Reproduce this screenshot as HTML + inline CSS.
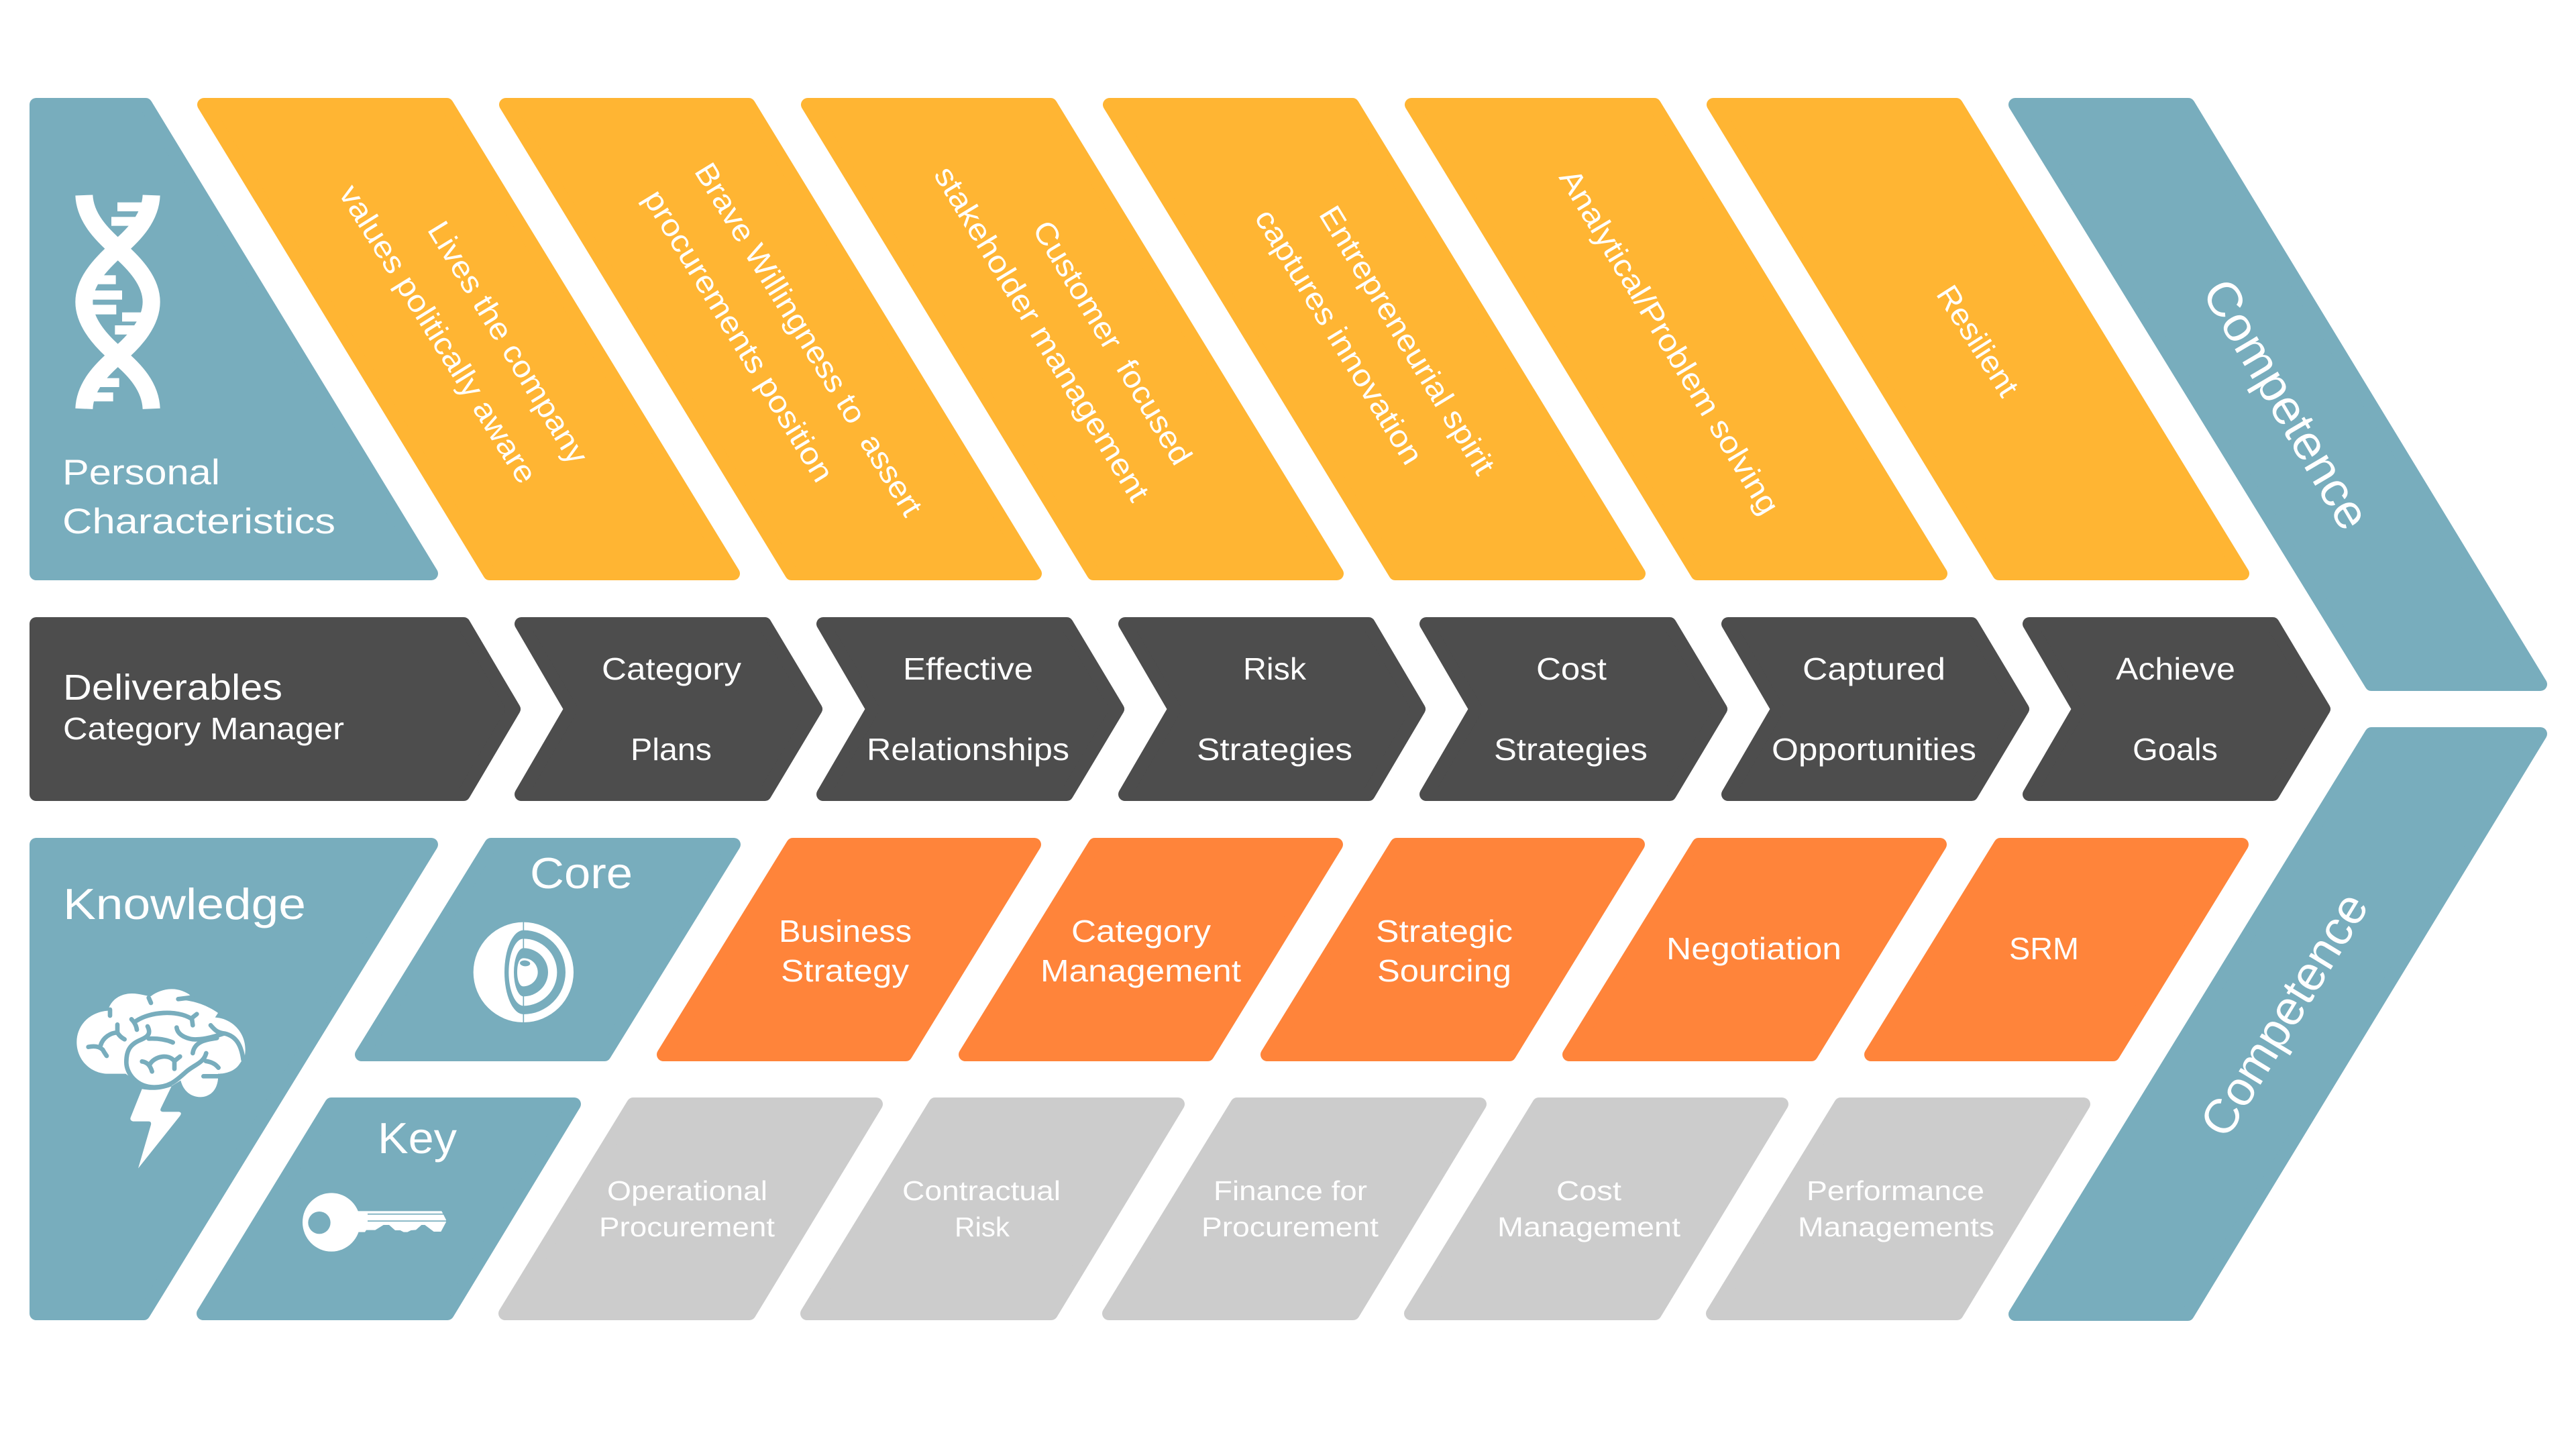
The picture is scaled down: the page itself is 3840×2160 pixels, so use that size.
<!DOCTYPE html>
<html>
<head>
<meta charset="utf-8">
<title>Deliverables Chevron Diagram</title>
<style>
html,body{margin:0;padding:0;background:#fff;width:3840px;height:2160px;overflow:hidden}
svg{display:block}
text{font-family:"Liberation Sans",sans-serif;fill:#fff}
</style>
</head>
<body>
<svg xmlns="http://www.w3.org/2000/svg" width="3840" height="2160" viewBox="0 0 3840 2160">
<rect width="3840" height="2160" fill="#fff"/>

<g fill="#78ADBD" stroke="#78ADBD" stroke-width="20" stroke-linejoin="round">
<polygon points="54,156 217,156 643,855 54,855"/>
<polygon points="3004,156 3262,156 3787,1020 3535,1020"/>
<polygon points="3535,1094 3787,1094 3261,1959 3004,1959"/>
<polygon points="54,1259 643,1259 214,1958 54,1958"/>
<polygon points="732,1259 1094,1259 901,1572 539,1572"/>
<polygon points="494,1646 856,1646 667,1958 303,1958"/>
</g>

<g fill="#FFB533" stroke="#FFB533" stroke-width="20" stroke-linejoin="round">
<polygon points="304,156 666,156 1093,855 730,855"/>
<polygon points="754,156 1116,156 1543,855 1180,855"/>
<polygon points="1204,156 1566,156 1993,855 1630,855"/>
<polygon points="1654,156 2016,156 2443,855 2080,855"/>
<polygon points="2104,156 2466,156 2893,855 2530,855"/>
<polygon points="2554,156 2916,156 3343,855 2980,855"/>
</g>

<g fill="#4D4D4D" stroke="#4D4D4D" stroke-width="20" stroke-linejoin="round">
<polygon points="54,930 691,930 766,1057 691,1184 54,1184"/>
<polygon points="777,930 1140,930 1216,1057 1140,1184 777,1184 851,1057"/>
<polygon points="1227,930 1590,930 1666,1057 1590,1184 1227,1184 1301,1057"/>
<polygon points="1677,930 2040,930 2115,1057 2040,1184 1677,1184 1751,1057"/>
<polygon points="2126,930 2489,930 2565,1057 2489,1184 2126,1184 2200,1057"/>
<polygon points="2576,930 2939,930 3015,1057 2939,1184 2576,1184 2650,1057"/>
<polygon points="3025,930 3388,930 3464,1057 3388,1184 3025,1184 3099,1057"/>
</g>

<g fill="#FF843A" stroke="#FF843A" stroke-width="20" stroke-linejoin="round">
<polygon points="1182,1259 1542,1259 1350,1572 989,1572"/>
<polygon points="1632,1259 1992,1259 1800,1572 1439,1572"/>
<polygon points="2082,1259 2442,1259 2250,1572 1889,1572"/>
<polygon points="2532,1259 2892,1259 2700,1572 2339,1572"/>
<polygon points="2982,1259 3342,1259 3150,1572 2789,1572"/>
</g>

<g fill="#CCCCCC" stroke="#CCCCCC" stroke-width="20" stroke-linejoin="round">
<polygon points="944,1646 1306,1646 1117,1958 753,1958"/>
<polygon points="1394,1646 1756,1646 1567,1958 1203,1958"/>
<polygon points="1844,1646 2206,1646 2017,1958 1653,1958"/>
<polygon points="2294,1646 2656,1646 2467,1958 2103,1958"/>
<polygon points="2744,1646 3106,1646 2917,1958 2553,1958"/>
</g>

<!-- DNA icon -->
<g transform="translate(60 260) scale(0.33333)">
<g fill="none" stroke="#fff" stroke-width="78">
<path d="M196,93 C200,190 270,265 347,332 C425,400 497,480 497,570 C497,660 425,745 347,810 C270,875 200,950 196,1048"/>
<path d="M497,93 C493,190 425,265 347,332 C270,400 196,480 196,570 C196,660 270,745 347,810 C425,875 493,950 497,1048"/>
</g>
<g fill="#fff">
<rect x="345" y="125" width="110" height="40"/>
<rect x="318" y="190" width="120" height="40"/>
<rect x="240" y="451" width="98" height="40"/>
<rect x="220" y="519" width="146" height="41"/>
<rect x="220" y="583" width="120" height="43"/>
<rect x="366" y="617" width="95" height="41"/>
<rect x="334" y="675" width="105" height="41"/>
<rect x="260" y="911" width="93" height="40"/>
<rect x="225" y="975" width="101" height="40"/>
</g>
</g>

<!-- Brain icon -->
<g transform="translate(90 1450) scale(0.33333)">
<path fill="#fff" d="M292,452 L215,452 C135,452 73,390 73,310 C73,232 135,175 213,170 C225,120 270,93 320,93 C355,93 385,105 405,105 C430,85 465,73 500,73 C530,73 560,85 580,100 L540,122 C600,125 660,148 705,180 L692,200 C775,205 842,280 824,375 L800,410 C780,440 740,452 705,452 L705,475 C700,530 665,556 625,556 C585,556 550,530 538,482 L500,505 L365,505 Z"/>
<g fill="none" stroke="#78ADBD" stroke-width="20" stroke-linecap="round" stroke-linejoin="round">
<path d="M390,240 C405,270 395,285 360,300 C310,320 295,350 295,400 C295,450 340,512 420,512 C490,512 520,480 560,445 C600,410 640,405 652,360"/>
<path d="M650,395 C680,400 695,410 707,425"/>
<path d="M395,295 C440,293 475,300 503,312"/>
<path d="M318,208 C335,225 340,240 342,255"/>
<path d="M340,215 C400,175 520,165 585,205"/>
<path d="M585,205 L610,185"/>
<path d="M588,205 L592,235"/>
<path d="M125,332 C160,325 180,335 190,345 C195,355 200,362 207,372"/>
<path d="M180,325 C190,290 225,268 255,268 L255,232"/>
<path d="M255,268 C262,280 272,290 287,298"/>
<path d="M520,245 C525,285 580,300 610,298 C650,297 690,285 730,272"/>
<path d="M672,235 C690,255 700,268 735,272 C790,285 810,330 818,390"/>
<path d="M700,292 C670,298 600,300 592,360"/>
<path d="M365,397 C385,400 400,410 410,442"/>
<path d="M400,410 C420,375 480,360 510,395 L510,430"/>
<path d="M510,395 L535,375"/>
<path d="M640,463 L712,463"/>
<path d="M222,165 L222,192"/>
<path d="M395,112 L405,135"/>
<path d="M527,118 L590,110"/>
</g>
<path fill="#fff" d="M365,520 C410,528 455,525 497,508 L450,605 Q442,620 458,622 L530,622 Q546,625 535,640 L348,875 L405,680 Q408,665 395,665 L325,665 Q308,660 315,645 Z"/>
</g>

<!-- Core icon -->
<g transform="translate(680 1340) scale(0.33333)">
<circle cx="301" cy="328" r="224" fill="#fff"/>
<path fill="#78ADBD" d="M301,140 A188,188 0 0 1 301,516 A85,188 0 0 1 301,140Z"/>
<path fill="#fff" d="M301,178 A150,150 0 0 1 301,478 A66,150 0 0 1 301,178Z"/>
<path fill="#78ADBD" d="M301,220 A110,108 0 0 1 301,436 A43,108 0 0 1 301,220Z"/>
<line x1="301" y1="102" x2="301" y2="554" stroke="#78ADBD" stroke-width="5"/>
<path fill="#fff" d="M301,265 C340,265 365,295 365,328 C365,362 335,391 300,391 C282,391 273,360 273,328 C273,295 280,265 301,265Z"/>
<ellipse cx="308" cy="288" rx="23" ry="13" transform="rotate(5 308 288)" fill="#78ADBD"/>
</g>

<!-- Key icon -->
<g transform="translate(420 1740) scale(0.33333)">
<ellipse cx="222" cy="246" rx="129" ry="131" fill="#fff"/>
<circle cx="168" cy="248" r="50" fill="#78ADBD"/>
<polygon fill="#fff" points="340,196 715,196 735,235 735,245 712,288 680,288 640,258 625,258 600,280 578,282 562,290 545,290 530,282 507,282 480,258 455,258 418,281 378,281 372,290 340,290"/>
<rect x="384" y="207" width="340" height="5" fill="#78ADBD"/>
<rect x="384" y="238" width="352" height="5" fill="#78ADBD"/>
</g>

<!-- Titles -->
<g font-size="53">
<text x="93" y="722" textLength="235" lengthAdjust="spacingAndGlyphs">Personal</text>
<text x="93" y="795" textLength="407" lengthAdjust="spacingAndGlyphs">Characteristics</text>
</g>
<text x="94" y="1043" font-size="54" textLength="327" lengthAdjust="spacingAndGlyphs">Deliverables</text>
<text x="94" y="1102" font-size="46" textLength="419" lengthAdjust="spacingAndGlyphs">Category Manager</text>
<g font-size="65">
<text x="94" y="1370" textLength="362" lengthAdjust="spacingAndGlyphs">Knowledge</text>
<text x="790" y="1324" textLength="153" lengthAdjust="spacingAndGlyphs">Core</text>
<text x="563" y="1719" textLength="118" lengthAdjust="spacingAndGlyphs">Key</text>
</g>

<!-- Rotated orange labels -->
<g font-size="46">
<text transform="translate(636 342) rotate(58.6)" textLength="414" lengthAdjust="spacingAndGlyphs">Lives the company</text>
<text transform="translate(504 288) rotate(58.1)" textLength="514" lengthAdjust="spacingAndGlyphs">values politically aware</text>
<text transform="translate(1034 255) rotate(58.6)" textLength="607" lengthAdjust="spacingAndGlyphs">Brave Willingness to &#160;assert</text>
<text transform="translate(958 295) rotate(58.7)" textLength="500" lengthAdjust="spacingAndGlyphs">procurements position</text>
<text transform="translate(1538 341) rotate(59)" textLength="415" lengthAdjust="spacingAndGlyphs">Customer &#160;focused</text>
<text transform="translate(1391 260) rotate(58.8)" textLength="574" lengthAdjust="spacingAndGlyphs">stakeholder management</text>
<text transform="translate(1965 319) rotate(58.7)" textLength="459" lengthAdjust="spacingAndGlyphs">Entrepreneurial spirit</text>
<text transform="translate(1869 324) rotate(58.6)" textLength="436" lengthAdjust="spacingAndGlyphs">captures innovation</text>
<text transform="translate(2323 264) rotate(59)" textLength="591" lengthAdjust="spacingAndGlyphs">Analytical/Problem solving</text>
<text transform="translate(2885 438) rotate(57.5)" textLength="186" lengthAdjust="spacingAndGlyphs">Resilient</text>
</g>

<!-- Competence -->
<g font-size="72">
<text transform="translate(3281 435) rotate(59.5)" textLength="418" lengthAdjust="spacingAndGlyphs">Competence</text>
<text transform="translate(3319 1700) rotate(-58.6)" textLength="410" lengthAdjust="spacingAndGlyphs">Competence</text>
</g>

<!-- Dark row labels -->
<g font-size="46">
<text x="897" y="1013" textLength="208" lengthAdjust="spacingAndGlyphs">Category</text>
<text x="940" y="1133" textLength="121" lengthAdjust="spacingAndGlyphs">Plans</text>
<text x="1346" y="1013" textLength="194" lengthAdjust="spacingAndGlyphs">Effective</text>
<text x="1292" y="1133" textLength="302" lengthAdjust="spacingAndGlyphs">Relationships</text>
<text x="1853" y="1013" textLength="94" lengthAdjust="spacingAndGlyphs">Risk</text>
<text x="1784" y="1133" textLength="232" lengthAdjust="spacingAndGlyphs">Strategies</text>
<text x="2290" y="1013" textLength="105" lengthAdjust="spacingAndGlyphs">Cost</text>
<text x="2227" y="1133" textLength="229" lengthAdjust="spacingAndGlyphs">Strategies</text>
<text x="2687" y="1013" textLength="213" lengthAdjust="spacingAndGlyphs">Captured</text>
<text x="2641" y="1133" textLength="305" lengthAdjust="spacingAndGlyphs">Opportunities</text>
<text x="3154" y="1013" textLength="178" lengthAdjust="spacingAndGlyphs">Achieve</text>
<text x="3179" y="1133" textLength="127" lengthAdjust="spacingAndGlyphs">Goals</text>
</g>

<!-- Core orange labels -->
<g font-size="46">
<text x="1161" y="1404" textLength="198" lengthAdjust="spacingAndGlyphs">Business</text>
<text x="1164" y="1463" textLength="191" lengthAdjust="spacingAndGlyphs">Strategy</text>
<text x="1597" y="1404" textLength="208" lengthAdjust="spacingAndGlyphs">Category</text>
<text x="1551" y="1463" textLength="299" lengthAdjust="spacingAndGlyphs">Management</text>
<text x="2051" y="1404" textLength="204" lengthAdjust="spacingAndGlyphs">Strategic</text>
<text x="2053" y="1463" textLength="200" lengthAdjust="spacingAndGlyphs">Sourcing</text>
<text x="2484" y="1430" textLength="261" lengthAdjust="spacingAndGlyphs">Negotiation</text>
<text x="2995" y="1430" textLength="104" lengthAdjust="spacingAndGlyphs">SRM</text>
</g>

<!-- Gray labels -->
<g font-size="41">
<text x="905" y="1789" textLength="239" lengthAdjust="spacingAndGlyphs">Operational</text>
<text x="893" y="1843" textLength="262" lengthAdjust="spacingAndGlyphs">Procurement</text>
<text x="1345" y="1789" textLength="236" lengthAdjust="spacingAndGlyphs">Contractual</text>
<text x="1423" y="1843" textLength="82" lengthAdjust="spacingAndGlyphs">Risk</text>
<text x="1809" y="1789" textLength="229" lengthAdjust="spacingAndGlyphs">Finance for</text>
<text x="1791" y="1843" textLength="264" lengthAdjust="spacingAndGlyphs">Procurement</text>
<text x="2320" y="1789" textLength="97" lengthAdjust="spacingAndGlyphs">Cost</text>
<text x="2232" y="1843" textLength="273" lengthAdjust="spacingAndGlyphs">Management</text>
<text x="2693" y="1789" textLength="265" lengthAdjust="spacingAndGlyphs">Performance</text>
<text x="2680" y="1843" textLength="293" lengthAdjust="spacingAndGlyphs">Managements</text>
</g>
</svg>
</body>
</html>
